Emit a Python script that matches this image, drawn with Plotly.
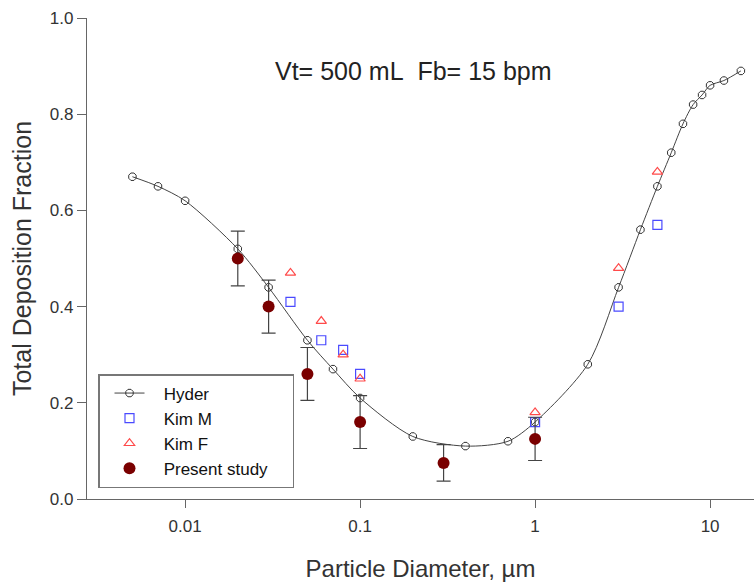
import plotly.graph_objects as go
import numpy as np

# Hyder model curve
hyder_x = [0.005, 0.007, 0.01, 0.02, 0.03, 0.05, 0.07, 0.1, 0.2, 0.4, 0.7, 1.0,
           2.0, 3.0, 4.0, 5.0, 6.0, 7.0, 8.0, 9.0, 10.0, 12.0, 15.0]
hyder_y = [0.67, 0.65, 0.62, 0.52, 0.44, 0.33, 0.27, 0.21, 0.13, 0.11, 0.12, 0.16,
           0.28, 0.44, 0.56, 0.65, 0.72, 0.78, 0.82, 0.84, 0.86, 0.87, 0.89]

# Kim M
kimm_x = [0.04, 0.06, 0.08, 0.1, 1.0, 3.0, 5.0]
kimm_y = [0.41, 0.33, 0.31, 0.26, 0.16, 0.40, 0.57]

# Kim F
kimf_x = [0.04, 0.06, 0.08, 0.1, 1.0, 3.0, 5.0]
kimf_y = [0.47, 0.37, 0.30, 0.25, 0.18, 0.48, 0.68]

# Present study
pres_x = [0.02, 0.03, 0.05, 0.1, 0.3, 1.0]
pres_y = [0.50, 0.40, 0.26, 0.16, 0.075, 0.125]
pres_err = [0.057, 0.055, 0.055, 0.055, 0.038, 0.045]

x_tickvals = [0.01, 0.1, 1, 10]
x_ticktext = ["0.01", "0.1", "1", "10"]
y_tickvals = [0.0, 0.2, 0.4, 0.6, 0.8, 1.0]

font_family = "Liberation Sans, Arial, sans-serif"
pad = "&nbsp;&nbsp;&nbsp;"

fig = go.Figure()
fig.add_trace(go.Scatter(
    x=hyder_x, y=hyder_y, mode="lines+markers", name=pad + "Hyder",
    line=dict(color="#444444", width=1, shape="spline", smoothing=0.8),
    marker=dict(symbol="octagon-open", size=8, color="#333333", line=dict(width=1, color="#333333")),
))
fig.add_trace(go.Scatter(
    x=kimm_x, y=kimm_y, mode="markers", name=pad + "Kim M",
    marker=dict(symbol="square-open", size=9, color="#4a4aff", line=dict(width=1.2)),
))
fig.add_trace(go.Scatter(
    x=kimf_x, y=kimf_y, mode="markers", name=pad + "Kim F",
    marker=dict(symbol="triangle-up-open", size=9, color="#ff4a4a", line=dict(width=1.2)),
))
fig.add_trace(go.Scatter(
    x=pres_x, y=pres_y, mode="markers", name=pad + "Present study&nbsp;&nbsp;&nbsp;&nbsp;",
    marker=dict(symbol="circle", size=12, color="#7a0000"),
    error_y=dict(type="data", array=pres_err, visible=True, color="#444444", thickness=1.2, width=7),
))

fig.add_annotation(
    text="Vt= 500 mL&nbsp;&nbsp;Fb= 15 bpm", xref="paper", yref="paper",
    x=(413 - 87) / 667, y=(499 - 71) / 481, xanchor="center", yanchor="middle",
    showarrow=False,
    font=dict(size=25, color="#222222", family=font_family),
)

fig.update_layout(
    width=754, height=587,
    margin=dict(l=87, r=0, t=18, b=88, autoexpand=False),
    plot_bgcolor="white", paper_bgcolor="white",
    font=dict(family=font_family, color="#333333"),
    showlegend=True,
    legend=dict(
        x=(98 - 87) / 667, y=(499 - 488) / 481, xanchor="left", yanchor="bottom",
        bgcolor="white", bordercolor="#777777", borderwidth=1.5,
        font=dict(size=17, color="#111111", family=font_family),
        itemsizing="trace", indentation=10,
    ),
    xaxis=dict(
        type="log", range=[np.log10(0.00275), 1.251],
        tickvals=x_tickvals, ticktext=x_ticktext,
        showgrid=False, zeroline=False,
        showline=True, linecolor="#666666", linewidth=1.2,
        ticks="outside", ticklen=8, tickcolor="#666666",
        ticklabelstandoff=3,
        tickfont=dict(size=17, color="#333333"),
        title=dict(text="Particle Diameter, µm", font=dict(size=24, color="#333333"), standoff=25),
    ),
    yaxis=dict(
        range=[0, 1], tickvals=y_tickvals, tickformat=".1f",
        showgrid=False, zeroline=False,
        showline=True, linecolor="#666666", linewidth=1.2,
        ticks="outside", ticklen=9, tickcolor="#666666",
        tickfont=dict(size=17, color="#333333"),
        title=dict(text="Total Deposition Fraction", font=dict(size=25, color="#333333"), standoff=11),
    ),
)

fig.write_html(
    "out.html",
    config={"displayModeBar": False},
    post_script="document.body.style.margin='0';document.body.style.overflow='hidden';",
)
